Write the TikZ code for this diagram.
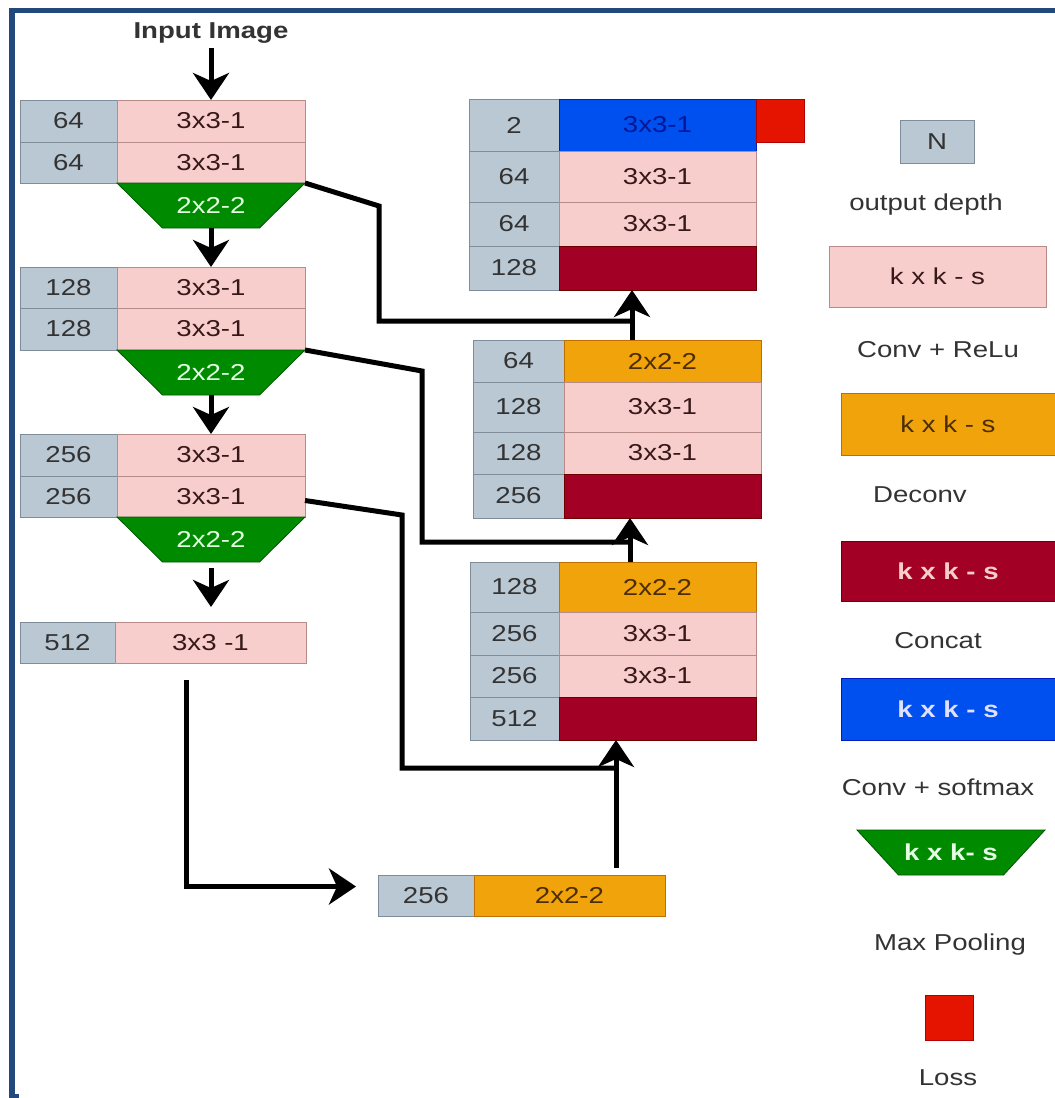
\documentclass[tikz,border=0pt]{standalone}
\usepackage{fontspec}
\setmainfont{Liberation Sans}[FakeStretch=1.2]
\usetikzlibrary{arrows.meta}
\definecolor{framec}{HTML}{22497D}
\definecolor{grayf}{HTML}{BAC8D3}
\definecolor{grayd}{HTML}{7F8C99}
\definecolor{pinkf}{HTML}{F8CECC}
\definecolor{pinkd}{HTML}{B88A88}
\definecolor{orangef}{HTML}{F0A30A}
\definecolor{oranged}{HTML}{BD7000}
\definecolor{crimf}{HTML}{A20025}
\definecolor{crimd}{HTML}{6F0000}
\definecolor{bluef}{HTML}{0050EF}
\definecolor{blued}{HTML}{001DBC}
\definecolor{greenf}{HTML}{008A00}
\definecolor{greend}{HTML}{005700}
\definecolor{redf}{HTML}{E51400}
\definecolor{redd}{HTML}{B20000}
\definecolor{txt}{HTML}{333333}
\newcommand\mkcell[7]{\node[#2, minimum width=#5pt, minimum height=#6pt] (#1) at (#3,#4) {#7};}
% name, centre x, centre y, half bottom width, text
\newcommand\mkpool[5]{%
  \filldraw[fill=greenf, draw=greend, line width=0.8pt]
    (#2-94,#3-22.5) -- (#2+94,#3-22.5) -- (#2+#4,#3+22.5) -- (#2-#4,#3+22.5) -- cycle;
  \node[pooltxt, minimum width=188pt, minimum height=45pt] (#1) at (#2,#3) {#5};}
\begin{document}
\begin{tikzpicture}[x=1pt,y=-1pt,
  base/.style={font=\fontsize{23}{26}\selectfont, text=txt},
  cell/.style={base, rectangle, draw, line width=0.8pt, anchor=north west, inner sep=0pt, outer sep=0pt},
  gcell/.style={cell, fill=grayf, draw=grayd},
  pcell/.style={cell, fill=pinkf, draw=pinkd, text=txt!80!red!60!black},
  ocell/.style={cell, fill=orangef, draw=oranged, text=oranged!40!black},
  ccell/.style={cell, fill=crimf, draw=crimd, text=pinkf},
  bcell/.style={cell, fill=bluef, draw=blued, text=blued!80!black},
  rcell/.style={cell, fill=redf, draw=redd},
  pooltxt/.style={base, inner sep=0pt, outer sep=0pt, text=green!10!white},
  lbl/.style={base, inner sep=0pt},
  arr/.style={line width=5pt, -{Stealth[length=27pt,width=36pt,inset=8pt]}},
  link/.style={line width=5pt, line join=miter}
]
% canvas and frame
\fill[white] (0,0) rectangle (1055,1098);
\useasboundingbox (0,0) rectangle (1055,1098);
\fill[framec] (9,8) rectangle (1055,13);
\fill[framec] (9,8) rectangle (15,1098);
\fill[framec] (9,1094) rectangle (19,1098);

% input
\node[lbl, font=\fontsize{23}{26}\selectfont\bfseries] (inp) at (211,33) {Input Image};

% encoder block 1
\mkcell{L1n1}{gcell}{20}{100}{97}{42}{64}
\mkcell{L1k1}{pcell}{117}{100}{188}{42}{3x3-1}
\mkcell{L1n2}{gcell}{20}{142}{97}{41}{64}
\mkcell{L1k2}{pcell}{117}{142}{188}{41}{3x3-1}
\mkpool{L1p}{211}{205.5}{48.5}{2x2-2}
% encoder block 2
\mkcell{L2n1}{gcell}{20}{267}{97}{41}{128}
\mkcell{L2k1}{pcell}{117}{267}{188}{41}{3x3-1}
\mkcell{L2n2}{gcell}{20}{308}{97}{42}{128}
\mkcell{L2k2}{pcell}{117}{308}{188}{42}{3x3-1}
\mkpool{L2p}{211}{372.5}{48.5}{2x2-2}
% encoder block 3
\mkcell{L3n1}{gcell}{20}{434}{97}{42}{256}
\mkcell{L3k1}{pcell}{117}{434}{188}{42}{3x3-1}
\mkcell{L3n2}{gcell}{20}{476}{97}{41}{256}
\mkcell{L3k2}{pcell}{117}{476}{188}{41}{3x3-1}
\mkpool{L3p}{211}{539.5}{48.5}{2x2-2}
% bottleneck
\mkcell{L4n}{gcell}{20}{622}{95}{41}{512}
\mkcell{L4k}{pcell}{115}{622}{191}{41}{3x3 -1}

% bottom deconv
\mkcell{Dn}{gcell}{378}{875}{96}{41}{256}
\mkcell{Dk}{ocell}{474}{875}{191}{41}{2x2-2}

% decoder block C
\mkcell{Cn1}{gcell}{470}{562}{89}{50}{128}
\mkcell{Ck1}{ocell}{559}{562}{197}{50}{2x2-2}
\mkcell{Cn2}{gcell}{470}{612}{89}{43}{256}
\mkcell{Ck2}{pcell}{559}{612}{197}{43}{3x3-1}
\mkcell{Cn3}{gcell}{470}{655}{89}{42}{256}
\mkcell{Ck3}{pcell}{559}{655}{197}{42}{3x3-1}
\mkcell{Cn4}{gcell}{470}{697}{89}{43}{512}
\mkcell{Ck4}{ccell}{559}{697}{197}{43}{}
% decoder block B
\mkcell{Bn1}{gcell}{473}{340}{91}{42}{64}
\mkcell{Bk1}{ocell}{564}{340}{197}{42}{2x2-2}
\mkcell{Bn2}{gcell}{473}{382}{91}{50}{128}
\mkcell{Bk2}{pcell}{564}{382}{197}{50}{3x3-1}
\mkcell{Bn3}{gcell}{473}{432}{91}{42}{128}
\mkcell{Bk3}{pcell}{564}{432}{197}{42}{3x3-1}
\mkcell{Bn4}{gcell}{473}{474}{91}{44}{256}
\mkcell{Bk4}{ccell}{564}{474}{197}{44}{}
% decoder block A
\mkcell{An1}{gcell}{469}{99}{90}{52}{2}
\mkcell{Ak1}{bcell}{559}{99}{197}{52}{3x3-1}
\mkcell{An2}{gcell}{469}{151}{90}{51}{64}
\mkcell{Ak2}{pcell}{559}{151}{197}{51}{3x3-1}
\mkcell{An3}{gcell}{469}{202}{90}{44}{64}
\mkcell{Ak3}{pcell}{559}{202}{197}{44}{3x3-1}
\mkcell{An4}{gcell}{469}{246}{90}{44}{128}
\mkcell{Ak4}{ccell}{559}{246}{197}{44}{}
\mkcell{loss}{rcell}{756}{99}{48}{43}{}

% legend
\mkcell{LgN}{gcell}{900}{120}{74}{43}{N}
\node[lbl] (LgNt) at (926,205) {output depth};
\mkcell{LgP}{pcell}{829}{246}{217}{61}{k x k - s}
\node[lbl] (LgPt) at (938,350) {Conv + ReLu};
\mkcell{LgO}{ocell}{841}{393}{214}{62}{k x k - s}
\node[lbl] (LgOt) at (920,495) {Deconv};
\mkcell{LgC}{ccell}{841}{541}{214}{60}{\bfseries k x k - s}
\node[lbl] (LgCt) at (938,641) {Concat};
\mkcell{LgB}{bcell}{841}{678}{214}{62}{\bfseries\color{blue!12!white}k x k - s}
\node[lbl] (LgBt) at (938,787) {Conv + softmax};
\mkpool{LgM}{951}{852.5}{52.5}{\bfseries k x k- s}
\node[lbl] (LgMt) at (950,945) {Max Pooling};
\mkcell{LgL}{rcell}{925}{995}{48}{45}{}
\node[lbl] (LgLt) at (948,1078) {Loss};

% coordinates for connector routing
\coordinate (xA) at (632,290);
\coordinate (xB) at (630,518);
\coordinate (xC) at (616,740);
\coordinate (s1a) at (379,206);
\coordinate (s1b) at (632,321);
\coordinate (s2a) at (422,371);
\coordinate (s2b) at (630,542);
\coordinate (s3a) at (402,515);
\coordinate (s3b) at (616,768);
\coordinate (bneck) at (186,680);
\coordinate (dtop) at (616,868);

% encoder arrows
\draw[arr, shorten <=4pt] (inp.south) -- (L1k1.north);
\draw[arr] (L1p.south) -- (L2k1.north);
\draw[arr] (L2p.south) -- (L3k1.north);
\draw[arr, shorten <=6pt, shorten >=15pt] (L3p.south) -- (L4k.north -| L3p.south);
\draw[arr, shorten >=22pt] (bneck) |- ([yshift=9pt]Dn.west);

% decoder arrows
\draw[arr] (dtop) -- (xC);
\draw[arr] (Ck1.north -| xB) -- (xB);
\draw[arr] (Bk1.north -| xA) -- (xA);

% skip connections
\draw[link] (L1k2.south east) -- (s1a) |- (s1b);
\draw[link] (L2k2.south east) -- (s2a) |- (s2b);
\draw[link] ([yshift=-4pt]L3k2.east) -- (s3a) |- (s3b);
\end{tikzpicture}
\end{document}
